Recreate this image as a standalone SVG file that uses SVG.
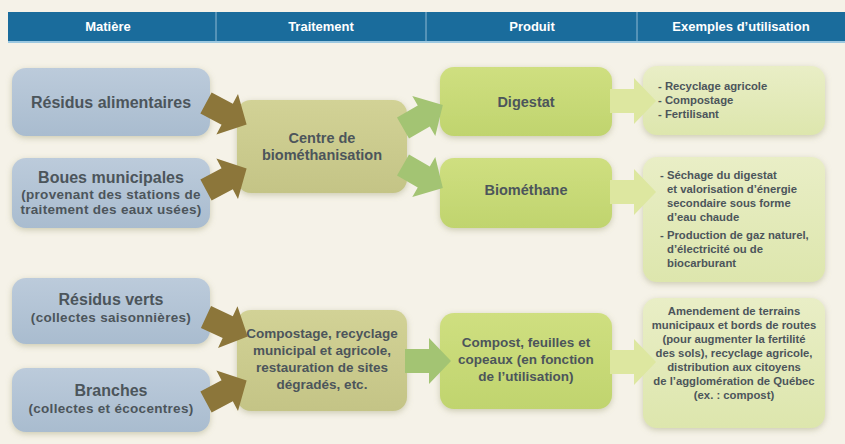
<svg xmlns="http://www.w3.org/2000/svg" width="845" height="444" viewBox="0 0 845 444">
<style>
text{font-family:"Liberation Sans",Arial,sans-serif;font-weight:bold;fill:#4c555b}
.h{fill:#fff;font-size:13px;text-anchor:middle}
.c{text-anchor:middle}
.big{font-size:16px}
.sub{font-size:13.5px;letter-spacing:0.3px}
.mid{font-size:14.5px}
.mid2{font-size:13.5px}
.ex{font-size:11.3px}
.blue{fill:url(#gBlue)}
.khaki{fill:url(#gKhaki)}
.prod{fill:url(#gProd)}
.exbox{fill:url(#gEx)}
.box{filter:url(#sh)}
</style>
<defs>
<linearGradient id="gBlue" x1="0" y1="0" x2="0" y2="1"><stop offset="0" stop-color="#bccbdb"/><stop offset="1" stop-color="#a9bccf"/></linearGradient>
<linearGradient id="gKhaki" x1="0" y1="0" x2="0" y2="1"><stop offset="0" stop-color="#d2d296"/><stop offset="1" stop-color="#c4c486"/></linearGradient>
<linearGradient id="gProd" x1="0" y1="0" x2="0" y2="1"><stop offset="0" stop-color="#cfdf80"/><stop offset="1" stop-color="#c0d46e"/></linearGradient>
<linearGradient id="gEx" x1="0" y1="0" x2="0" y2="1"><stop offset="0" stop-color="#e9eec6"/><stop offset="1" stop-color="#dde6ad"/></linearGradient>
<filter id="sh" x="-10%" y="-10%" width="120%" height="125%"><feDropShadow dx="0" dy="2" stdDeviation="3" flood-color="#9a9a70" flood-opacity="0.45"/></filter>
<path id="arr" d="M0,-12 L24,-12 L24,-23 L46,0 L24,23 L24,12 L0,12 Z"/>
</defs>
<rect width="845" height="444" fill="#f5f2e8"/>
<g id="header">
<rect x="8" y="12" width="837" height="29" fill="#1a6c9c"/>
<rect x="8" y="41" width="837" height="2" fill="#9cc8e0"/>
<line x1="216" y1="12" x2="216" y2="41" stroke="#8fb9d3" stroke-width="1"/>
<line x1="426" y1="12" x2="426" y2="41" stroke="#8fb9d3" stroke-width="1"/>
<line x1="637" y1="12" x2="637" y2="41" stroke="#8fb9d3" stroke-width="1"/>
<text class="h" x="108" y="31">Matière</text>
<text class="h" x="321" y="31">Traitement</text>
<text class="h" x="532" y="31">Produit</text>
<text class="h" x="741" y="31">Exemples d’utilisation</text>
</g>
<g id="residus-alimentaires"><rect class="box blue" x="12" y="68" width="198" height="68" rx="14"/><text class="c big" x="111" y="108">Résidus alimentaires</text></g>
<g id="boues-municipales"><rect class="box blue" x="12" y="158" width="198" height="70" rx="14"/><text class="c big" x="111" y="183">Boues municipales</text><text class="c sub" x="111" y="199">(provenant des stations de</text><text class="c sub" x="111" y="214">traitement des eaux usées)</text></g>
<g id="residus-verts"><rect class="box blue" x="12" y="278" width="198" height="66" rx="14"/><text class="c big" x="111" y="305">Résidus verts</text><text class="c sub" x="111" y="322">(collectes saisonnières)</text></g>
<g id="branches"><rect class="box blue" x="12" y="368" width="198" height="64" rx="14"/><text class="c big" x="111" y="396">Branches</text><text class="c sub" x="111" y="413">(collectes et écocentres)</text></g>
<g id="centre-biomethanisation"><rect class="box khaki" x="237" y="100" width="170" height="93" rx="14"/><text class="c mid" x="322" y="143">Centre de</text><text class="c mid" x="322" y="160">biométhanisation</text></g>
<g id="compostage"><rect class="box khaki" x="237" y="310" width="170" height="101" rx="14"/><text class="c mid2" x="322" y="338">Compostage, recyclage</text><text class="c mid2" x="322" y="355">municipal et agricole,</text><text class="c mid2" x="322" y="372">restauration de sites</text><text class="c mid2" x="322" y="389">dégradés, etc.</text></g>
<g id="digestat"><rect class="box prod" x="440" y="67" width="172" height="69" rx="14"/><text class="c mid" x="526" y="107">Digestat</text></g>
<g id="biomethane"><rect class="box prod" x="440" y="158" width="172" height="70" rx="14"/><text class="c mid" x="526" y="195">Biométhane</text></g>
<g id="compost-feuilles"><rect class="box prod" x="440" y="313" width="172" height="96" rx="14"/><text class="c mid2" x="526" y="347">Compost, feuilles et</text><text class="c mid2" x="526" y="364">copeaux (en fonction</text><text class="c mid2" x="526" y="381">de l’utilisation)</text></g>
<g id="ex-digestat"><rect class="box exbox" x="643" y="66" width="182" height="69" rx="14"/><text class="ex" x="658" y="90">- Recyclage agricole</text><text class="ex" x="658" y="104">- Compostage</text><text class="ex" x="658" y="118">- Fertilisant</text></g>
<g id="ex-biomethane"><rect class="box exbox" x="643" y="157" width="182" height="125" rx="14"/><text class="ex" x="660" y="179">- Séchage du digestat</text><text class="ex" x="667" y="193">et valorisation d’énergie</text><text class="ex" x="667" y="207">secondaire sous forme</text><text class="ex" x="667" y="221">d’eau chaude</text><text class="ex" x="660" y="239">- Production de gaz naturel,</text><text class="ex" x="667" y="253">d’électricité ou de</text><text class="ex" x="667" y="267">biocarburant</text></g>
<g id="ex-compost"><rect class="box exbox" x="643" y="298" width="182" height="130" rx="14"/><text class="c ex" x="734" y="315">Amendement de terrains</text><text class="c ex" x="734" y="329">municipaux et bords de routes</text><text class="c ex" x="734" y="343">(pour augmenter la fertilité</text><text class="c ex" x="734" y="357">des sols), recyclage agricole,</text><text class="c ex" x="734" y="371">distribution aux citoyens</text><text class="c ex" x="734" y="385">de l’agglomération de Québec</text><text class="c ex" x="734" y="399">(ex. : compost)</text></g>
<g id="connectors">
<g fill="#8c763a">
<use href="#arr" transform="translate(206,103) rotate(28)"/>
<use href="#arr" transform="translate(206,190) rotate(-28)"/>
<use href="#arr" transform="translate(206,317) rotate(25)"/>
<use href="#arr" transform="translate(206,402) rotate(-28)"/>
</g>
<g fill="#a3c473">
<use href="#arr" transform="translate(403,128) rotate(-30)"/>
<use href="#arr" transform="translate(403,165) rotate(30)"/>
<use href="#arr" transform="translate(405,361)"/>
</g>
<g fill="#dde7a0">
<use href="#arr" transform="translate(610,101)"/>
<use href="#arr" transform="translate(610,192)"/>
<use href="#arr" transform="translate(610,362)"/>
</g>
</g>
</svg>
